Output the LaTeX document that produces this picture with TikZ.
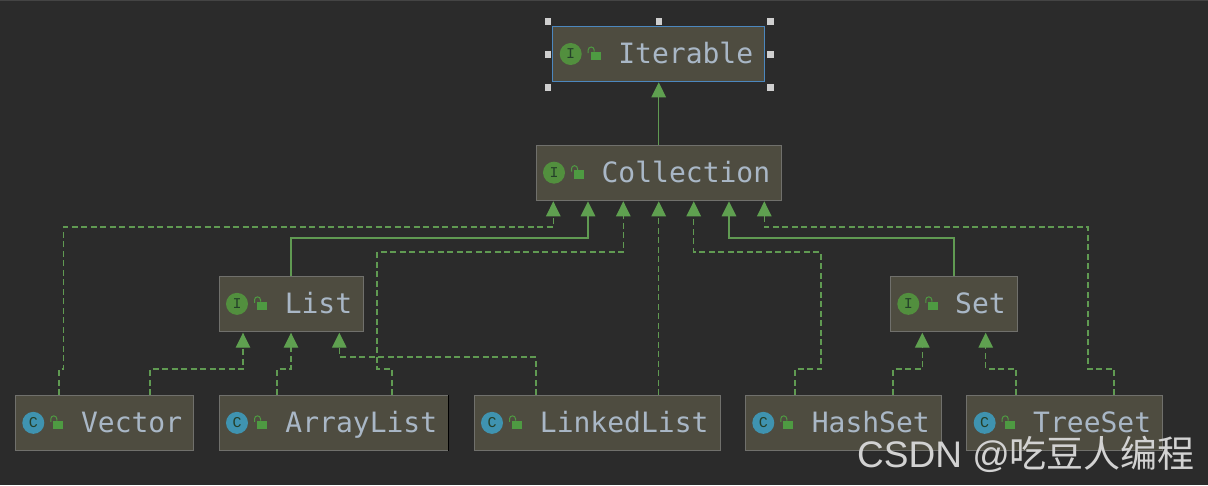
\documentclass[tikz,border=0pt]{standalone}
\usepackage{fontspec}
\usetikzlibrary{arrows.meta,calc}
\setmainfont{Liberation Sans}
\newfontfamily\codefont{DejaVu Sans Mono}
\newfontfamily\iconfont{Liberation Mono}
\newfontfamily\cjkfont{Noto Sans CJK SC}
\definecolor{bgc}{HTML}{2B2B2B}
\definecolor{topc}{HTML}{444444}
\definecolor{boxfill}{HTML}{4E4C40}
\definecolor{boxline}{HTML}{70706C}
\definecolor{selline}{HTML}{4C87BE}
\definecolor{linkc}{HTML}{609A52}
\definecolor{tipc}{HTML}{5FA050}
\definecolor{labelc}{HTML}{A9B7C6}
\definecolor{ifacec}{HTML}{528F3E}
\definecolor{classc}{HTML}{3F93B0}
\definecolor{lockc}{HTML}{4E9A42}
\definecolor{handlec}{HTML}{CFCFCF}
\definecolor{markc}{HTML}{D2D2D2}
\definecolor{icontext}{HTML}{25402A}
\tikzset{
  x=1pt,y=-1pt,
  umlbox/.style={draw=boxline,fill=boxfill,line width=1pt,inner xsep=0pt,inner ysep=0pt,outer sep=0pt,
    font=\codefont\fontsize{28}{28}\selectfont,text=labelc,align=right,text height=19pt,text depth=0pt},
  iconc/.style={circle,inner sep=0pt,outer sep=0pt,minimum size=22pt,text=icontext,font=\iconfont\fontsize{15}{15}\selectfont},
  link/.style={draw=linkc,line width=1.3pt,-{Triangle[length=15pt,width=14.5pt,color=tipc]},shorten >=1pt},
  impl/.style={link,dash pattern=on 6pt off 3.5pt},
  handle/.style={fill=handlec,draw=none,minimum size=6.5pt,inner sep=0pt,rectangle},
  watermark/.style={text=markc,inner sep=0pt,anchor=base west,font=\fontsize{37}{37}\selectfont}
}
\newcommand{\umlnode}[8]{%
  \pgfmathsetmacro{\bw}{#4-#2}\pgfmathsetmacro{\bh}{#5-#3}%
  \pgfmathsetmacro{\bcx}{(#2+#4)/2}\pgfmathsetmacro{\bcy}{(#3+#5)/2}%
  \node[umlbox,minimum width=\bw pt,minimum height=\bh pt,text width=\bw pt-23pt] (#1) at (\bcx,\bcy) {#8};
  \node[iconc,fill=#7] (#1icon) at ($(#1.west)+(18,0)$) {#6};
  \fill[lockc] ($(#1.west)+(38,-2.3)$) rectangle ($(#1.west)+(48,6)$);
  \draw[lockc,line width=1pt] ($(#1.west)+(35.5,-1)$) -- ($(#1.west)+(35.5,-4)$) arc[start angle=180,end angle=0,radius=3pt] -- ($(#1.west)+(41.5,-2.3)$);
}
\begin{document}
\begin{tikzpicture}
\useasboundingbox (0,0) rectangle (1208,485);
\fill[bgc] (0,0) rectangle (1208,485);
\fill[topc] (0,0) rectangle (1208,1);
\umlnode{iterable}{552.7}{26.7}{764.7}{81.3}{I}{ifacec}{Iterable}
\umlnode{collection}{536}{145}{781.7}{200.3}{I}{ifacec}{Collection}
\umlnode{list}{219}{276}{363.7}{331.7}{I}{ifacec}{List}
\umlnode{set}{890.3}{276}{1017.3}{331.7}{I}{ifacec}{Set}
\umlnode{vector}{15.3}{395}{193.7}{450.7}{C}{classc}{Vector}
\umlnode{arraylist}{219}{395}{448.7}{450.7}{C}{classc}{ArrayList}
\umlnode{linkedlist}{474}{395}{720}{450.7}{C}{classc}{LinkedList}
\umlnode{hashset}{745.3}{395}{941.3}{450.7}{C}{classc}{HashSet}
\umlnode{treeset}{966.7}{395}{1162.7}{450.7}{C}{classc}{TreeSet}
\draw[selline,line width=1.2pt] (iterable.north west) rectangle (iterable.south east);
\draw[black,line width=1.2pt] (arraylist.north east) -- (arraylist.south east);
% connectors
\draw[link] (658.7,0 |- collection.north) -- (658.7,0 |- iterable.south);
\draw[impl] (59,0 |- vector.north) -- (59,369) -- (63.3,369) -- (63.3,227) -- (553.3,227) -- (553.3,0 |- collection.south);
\draw[link] (291,0 |- list.north) -- (291,238) -- (588,238) -- (588,0 |- collection.south);
\draw[impl] (392,0 |- arraylist.north) -- (392,369) -- (377,369) -- (377,252) -- (623.3,252) -- (623.3,0 |- collection.south);
\draw[impl] (658.7,0 |- linkedlist.north) -- (658.7,0 |- collection.south);
\draw[impl] (795,0 |- hashset.north) -- (795,369) -- (821,369) -- (821,252) -- (693.7,252) -- (693.7,0 |- collection.south);
\draw[link] (954,0 |- set.north) -- (954,238) -- (729,238) -- (729,0 |- collection.south);
\draw[impl] (1114,0 |- treeset.north) -- (1114,369) -- (1088,369) -- (1088,227) -- (764.3,227) -- (764.3,0 |- collection.south);
\draw[impl] (150,0 |- vector.north) -- (150,369) -- (243,369) -- (243,0 |- list.south);
\draw[impl] (277,0 |- arraylist.north) -- (277,369) -- (291,369) -- (291,0 |- list.south);
\draw[impl] (536,0 |- linkedlist.north) -- (536,357) -- (339.3,357) -- (339.3,0 |- list.south);
\draw[impl] (893,0 |- hashset.north) -- (893,369) -- (922.3,369) -- (922.3,0 |- set.south);
\draw[impl] (1016,0 |- treeset.north) -- (1016,369) -- (985.7,369) -- (985.7,0 |- set.south);
% selection handles
\node[handle] (h1) at (548,21.3) {};
\node[handle] (h2) at (659,21.3) {};
\node[handle] (h3) at (770.3,21.3) {};
\node[handle] (h4) at (548,54.3) {};
\node[handle] (h5) at (770.3,54.3) {};
\node[handle] (h6) at (548,87.7) {};
\node[handle] (h7) at (770.3,87.7) {};
% watermark
\node[watermark] (mark) at (857,467) {CSDN @{\cjkfont 吃豆人编程}};
\end{tikzpicture}
\end{document}
